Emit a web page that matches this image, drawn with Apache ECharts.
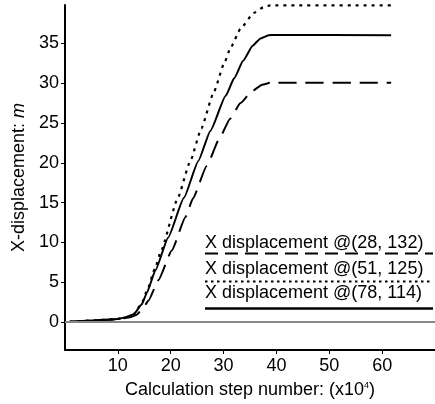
<!DOCTYPE html>
<html>
<head>
<meta charset="utf-8">
<script src="https://cdn.jsdelivr.net/npm/echarts@6/dist/echarts.min.js"></script>
<style>
  html, body { margin: 0; padding: 0; background: #fff; }
  #chart { width: 435px; height: 404px; }
</style>
</head>
<body>
<div id="chart"></div>
<script>
// [step (x10^4), x-displacement m]
var disp28_132 = [
  [0.9, 0.05], [5, 0.2], [10, 0.35], [12.3, 0.6], [13.5, 0.9], [14.5, 1.5],
  [15.8, 2.7], [17.7, 5.3], [20.2, 9.0], [22.8, 13.2], [24.2, 15.5],
  [26.8, 19.6], [29.4, 23.3], [31.2, 25.5], [33.2, 27.5], [35.4, 29.0],
  [37.3, 29.8], [38.9, 30.05], [61.7, 30.05]
];
var disp51_125 = [
  [0.9, 0.05], [5, 0.2], [10, 0.4], [11.5, 0.6], [13, 1.0], [14.5, 2.3],
  [15.5, 3.9], [17, 6.7], [18.2, 9.0], [21.3, 15.5], [23.7, 20.2], [25.8, 24.3],
  [28, 28.6], [30.2, 32.6], [31.3, 34.4], [33.2, 36.8], [35.7, 38.8],
  [37.5, 39.5], [38.8, 39.75], [61.7, 39.75]
];
var disp78_114 = [
  [0.9, 0.05], [5, 0.2], [10, 0.4], [11.5, 0.6], [13, 1.0], [14.5, 2.2],
  [15.5, 3.7], [17.1, 6.5], [19.5, 10.6], [22.5, 15.6], [25.2, 20.2],
  [27.5, 24.0], [30.4, 28.4], [32, 30.6], [33.7, 32.8], [35.5, 34.7],
  [37, 35.6], [38.5, 36.0], [39.5, 36.05], [61.7, 36.0]
];
var legendNames = ['X displacement @(28, 132)', 'X displacement @(51, 125)', 'X displacement @(78, 114)'];
var xTicks = [10, 20, 30, 40, 50, 60];
var yTicks = [0, 5, 10, 15, 20, 25, 30, 35];

var chart = echarts.init(document.getElementById('chart'));
var font = 'Liberation Sans, Arial, sans-serif';

function lineSeries(name, data, type, width) {
  return {
    name: name,
    type: 'line',
    data: data,
    symbol: 'none',
    smooth: 0.15,
    smoothMonotone: 'x',
    lineStyle: { color: '#000', width: width, type: type },
    z: 3
  };
}

// legend: text with its line style drawn underneath
var legendTop = [234, 260, 284];
var legendLineY = [253.5, 281.5, 308.5];
var legendTypes = [[13, 7], [2.5, 3.5], 'solid'];
var legendWidths = [2, 1.8, 2.5];
var graphics = [];
legendNames.forEach(function (n, i) {
  graphics.push({
    type: 'text', left: 205, top: legendTop[i],
    style: { text: n, fontSize: 18, fontFamily: font, fill: '#000' }
  });
  graphics.push({
    type: 'line',
    shape: { x1: 205, y1: legendLineY[i], x2: 433, y2: legendLineY[i] },
    style: { stroke: '#000', lineWidth: legendWidths[i], lineDash: legendTypes[i] === 'solid' ? null : legendTypes[i] }
  });
});

var option = {
  animation: false,
  backgroundColor: '#fff',
  grid: { left: 65, right: 0, top: 5, bottom: 51 },
  xAxis: {
    type: 'value',
    min: 0, max: 70, interval: 10,
    name: 'Calculation step number: (x10{s|4})',
    nameLocation: 'middle',
    nameGap: 31,
    nameTextStyle: {
      fontSize: 18, fontFamily: font, color: '#000',
      rich: { s: { fontSize: 9, fontFamily: font, color: '#000', verticalAlign: 'top', padding: [0, 0, 8, 0] } }
    },
    axisLine: { onZero: false, lineStyle: { color: '#000', width: 2 } },
    axisTick: { customValues: xTicks, length: 4, lineStyle: { color: '#000' } },
    axisLabel: { customValues: xTicks, fontSize: 18, fontFamily: font, color: '#000', margin: 7 },
    splitLine: { show: false }
  },
  yAxis: {
    type: 'value',
    min: -3.5, max: 39.8,
    name: 'X-displacement: {i|m}',
    nameLocation: 'middle',
    nameGap: 36,
    nameTextStyle: {
      fontSize: 18, fontFamily: font, color: '#000',
      rich: { i: { fontSize: 18, fontFamily: font, color: '#000', fontStyle: 'italic' } }
    },
    axisLine: { show: true, onZero: false, lineStyle: { color: '#000', width: 2 } },
    axisTick: { show: true, customValues: yTicks, length: 4, lineStyle: { color: '#000' } },
    axisLabel: { customValues: yTicks, fontSize: 18, fontFamily: font, color: '#000', margin: 6 },
    splitLine: { show: false }
  },
  series: [
    lineSeries(legendNames[0], disp28_132, [18, 9], 2),
    lineSeries(legendNames[1], disp51_125, [3, 5], 2.2),
    lineSeries(legendNames[2], disp78_114, 'solid', 2),
    {
      type: 'line', data: [], silent: true,
      markLine: {
        symbol: 'none', silent: true, label: { show: false },
        lineStyle: { color: '#888', width: 2, type: 'solid' },
        data: [{ yAxis: 0 }]
      },
      z: 1
    }
  ],
  graphic: graphics
};
chart.setOption(option);
</script>
</body>
</html>
